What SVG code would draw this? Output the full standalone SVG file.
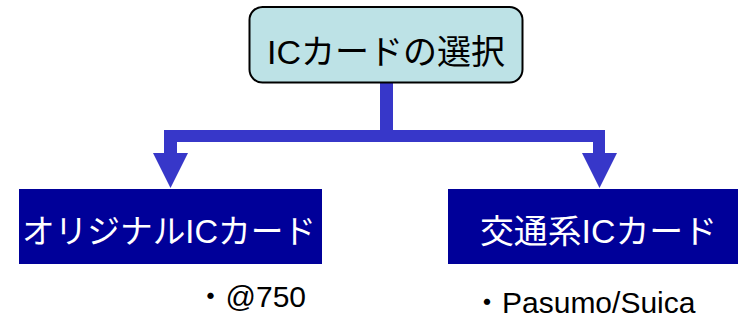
<svg xmlns="http://www.w3.org/2000/svg" width="738" height="320" viewBox="0 0 738 320">
<style>
.jp{font-family:"Liberation Sans","Noto Sans CJK JP",sans-serif;}
.top{font-size:34px;fill:#000;}
.node{font-size:33px;fill:#fff;}
.note{font-size:30px;fill:#000;}
.box{fill:#000099;}
.conn{fill:#3737c9;}
</style>
<rect width="738" height="320" fill="#fff"/>
<g id="connectors">
<rect class="conn" x="380" y="83" width="13" height="59"/>
<rect class="conn" x="164" y="130" width="441" height="12"/>
<rect class="conn" x="164" y="130" width="13" height="24"/>
<polygon class="conn" points="153,153 188,153 170.5,188"/>
<rect class="conn" x="593" y="130" width="12" height="24"/>
<polygon class="conn" points="582,153 617,153 599.5,188"/>
</g>
<g id="node-top">
<rect x="249.5" y="7" width="273" height="75.5" rx="13" ry="13" fill="#bde2e6" stroke="#000" stroke-width="2"/>
<text class="jp top" x="386" y="64" text-anchor="middle">ICカードの選択</text>
</g>
<g id="node-original">
<rect class="box" x="19" y="189" width="303" height="75"/>
<text class="jp node" x="22" y="243" textLength="294" lengthAdjust="spacingAndGlyphs">オリジナルICカード</text>
</g>
<g id="node-transport">
<rect class="box" x="448" y="189" width="290" height="75"/>
<text class="jp node" x="480" y="243" textLength="237" lengthAdjust="spacingAndGlyphs">交通系ICカード</text>
</g>
<g id="note-original">
<text class="jp note" x="195.5" y="307">・@750</text>
</g>
<g id="note-transport">
<text class="jp note" x="472" y="313">・Pasumo/Suica</text>
</g>
</svg>
